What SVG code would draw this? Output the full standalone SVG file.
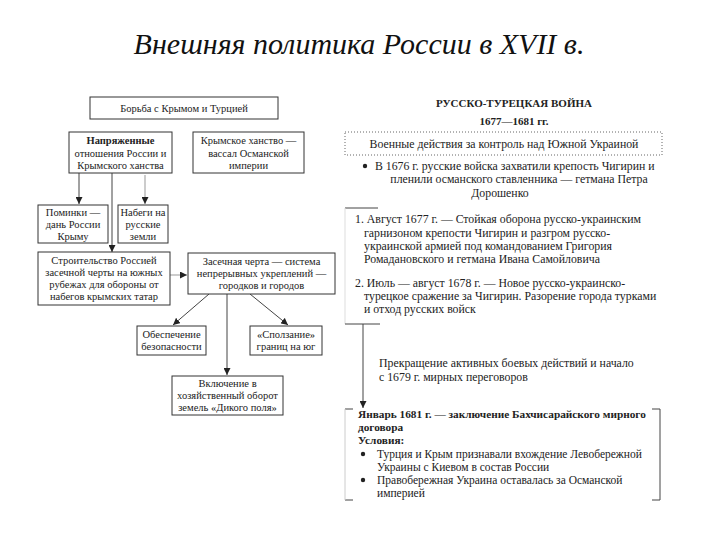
<svg xmlns="http://www.w3.org/2000/svg" width="720" height="540" viewBox="0 0 720 540">
<style>
.t{font-family:"Liberation Serif","Times New Roman",serif;font-size:10.5px;fill:#222}
.c{text-anchor:middle}
.b{font-weight:bold}
.h{font-size:11px}
.r{font-size:11.8px}
.s{font-size:11.5px}
.bs{font-size:11.3px}
.box{fill:#fff;stroke:#333;stroke-width:1}
.ln{stroke:#444;stroke-width:1;fill:none}
.lg{stroke:#999;stroke-width:1;fill:none}
</style>
<defs>
<marker id="ah" viewBox="0 0 10 10" refX="10" refY="5" markerWidth="7" markerHeight="7" markerUnits="userSpaceOnUse" orient="auto">
<path d="M0,0 L10,5 L0,10 z" fill="#222"/>
</marker>
</defs>
<rect width="720" height="540" fill="#fff"/>
<text x="359" y="54" text-anchor="middle" font-family="'Liberation Serif','Times New Roman',serif" font-style="italic" font-size="30" fill="#111">Внешняя политика России в XVII в.</text>

<g id="connectors">
<line class="ln" x1="79" y1="173" x2="79" y2="204" marker-end="url(#ah)"/>
<line class="ln" x1="112" y1="173" x2="112" y2="252" marker-end="url(#ah)"/>
<line class="lg" x1="145" y1="175" x2="145" y2="204" marker-end="url(#ah)"/>
<line class="lg" x1="170" y1="275" x2="187" y2="275" marker-end="url(#ah)"/>
<line class="ln" x1="209" y1="294" x2="173" y2="325" marker-end="url(#ah)"/>
<line class="ln" x1="227" y1="294" x2="227" y2="375" marker-end="url(#ah)"/>
<line class="ln" x1="250" y1="294" x2="288" y2="325" marker-end="url(#ah)"/>
<line class="ln" x1="345" y1="208" x2="378" y2="208"/>
<line x1="345" y1="208" x2="345" y2="324" stroke="#ddd" stroke-width="1"/>
<line class="ln" x1="345" y1="324" x2="380" y2="324"/>
<line class="ln" x1="363" y1="324" x2="363" y2="408" marker-end="url(#ah)"/>
</g>

<g id="n-borba">
<rect class="box" x="90" y="97" width="188" height="22"/>
<text class="t c" x="184" y="112">Борьба с Крымом и Турцией</text>
</g>
<g id="n-napr">
<rect class="box" x="69" y="132" width="103" height="41"/>
<text class="t c" x="120.5" y="144"><tspan class="b">Напряженные</tspan><tspan x="120.5" dy="12.5">отношения России и</tspan><tspan x="120.5" dy="12.5">Крымского ханства</tspan></text>
</g>
<g id="n-krym">
<rect class="box" x="193" y="132" width="111" height="41"/>
<text class="t c" x="248.5" y="144">Крымское ханство —<tspan x="248.5" dy="12.5">вассал Османской</tspan><tspan x="248.5" dy="12.5">империи</tspan></text>
</g>
<g id="n-pominki">
<rect class="box" x="38" y="205" width="70" height="38"/>
<text class="t c" x="73" y="216">Поминки —<tspan x="73" dy="12">дань России</tspan><tspan x="73" dy="12">Крыму</tspan></text>
</g>
<g id="n-nabegi">
<rect class="box" x="118" y="205" width="50" height="38"/>
<text class="t c" x="143" y="216">Набеги на<tspan x="143" dy="12">русские</tspan><tspan x="143" dy="12">земли</tspan></text>
</g>
<g id="n-stroit">
<rect class="box" x="38" y="252" width="132" height="53"/>
<text class="t c" x="104" y="264">Строительство Россией<tspan x="104" dy="12">засечной черты на южных</tspan><tspan x="104" dy="12">рубежах для обороны от</tspan><tspan x="104" dy="12">набегов крымских татар</tspan></text>
</g>
<g id="n-zaseka">
<rect class="box" x="188" y="253" width="147" height="41"/>
<text class="t c" x="261.5" y="265">Засечная черта — система<tspan x="261.5" dy="12">непрерывных укреплений —</tspan><tspan x="261.5" dy="12">городков и городов</tspan></text>
</g>
<g id="n-bezop">
<rect class="box" x="137" y="326" width="69" height="29"/>
<text class="t c" x="171.5" y="338">Обеспечение<tspan x="171.5" dy="12">безопасности</tspan></text>
</g>
<g id="n-spolz">
<rect class="box" x="250" y="326" width="72" height="29"/>
<text class="t c" x="286" y="338">«Сползание»<tspan x="286" dy="12">границ на юг</tspan></text>
</g>
<g id="n-vkl">
<rect class="box" x="172" y="376" width="111" height="39"/>
<text class="t c" x="227.5" y="387">Включение в<tspan x="227.5" dy="12">хозяйственный оборот</tspan><tspan x="227.5" dy="12">земель «Дикого поля»</tspan></text>
</g>

<g id="n-war-title">
<text class="t c b h" x="514" y="107">РУССКО-ТУРЕЦКАЯ ВОЙНА</text>
<text class="t c b h" x="514" y="125">1677—1681 гг.</text>
</g>
<g id="n-voen">
<rect x="345" y="132" width="317" height="23" fill="none" stroke="#666" stroke-width="1" stroke-dasharray="1,2"/>
<text class="t c r" x="504" y="148">Военные действия за контроль над Южной Украиной</text>
</g>
<g id="n-1676">
<circle cx="365" cy="166" r="2.2" fill="#222"/>
<text class="t r" x="375" y="170">В 1676 г. русские войска захватили крепость Чигирин и</text>
<text class="t c r" x="519" y="183">пленили османского ставленника — гетмана Петра</text>
<text class="t c r" x="500" y="197">Дорошенко</text>
</g>
<g id="n-events">
<text class="t r" x="355" y="223">1. Август 1677 г. — Стойкая оборона русско-украинским</text>
<text class="t r" x="364" y="237">гарнизоном крепости Чигирин и разгром русско-</text>
<text class="t r" x="364" y="250">украинской армией под командованием Григория</text>
<text class="t r" x="364" y="263">Ромадановского и гетмана Ивана Самойловича</text>
<text class="t r" x="355" y="287">2. Июль — август 1678 г. — Новое русско-украинско-</text>
<text class="t r" x="364" y="300">турецкое сражение за Чигирин. Разорение города турками</text>
<text class="t r" x="364" y="313">и отход русских войск</text>
</g>
<g id="n-prekr">
<text class="t r" x="379" y="367">Прекращение активных боевых действий и начало</text>
<text class="t r" x="379" y="381">с 1679 г. мирных переговоров</text>
</g>
<g id="n-dogovor">
<path class="ln" d="M353,409 H345"/>
<path class="ln" d="M345,500 H353"/>
<line x1="345" y1="409" x2="345" y2="500" stroke="#ccc" stroke-width="1"/>
<path class="ln" d="M652,409 H660 V500 H652"/>
<text class="t b bs" x="358" y="418">Январь 1681 г. — заключение Бахчисарайского мирного</text>
<text class="t b bs" x="358" y="431">договора</text>
<text class="t b bs" x="358" y="444">Условия:</text>
<circle cx="363" cy="454" r="2.2" fill="#222"/>
<text class="t s" x="377" y="458">Турция и Крым признавали вхождение Левобережной</text>
<text class="t s" x="377" y="471">Украины с Киевом в состав России</text>
<circle cx="363" cy="480" r="2.2" fill="#222"/>
<text class="t s" x="377" y="484">Правобережная Украина оставалась за Османской</text>
<text class="t s" x="377" y="497">империей</text>
</g>
</svg>
